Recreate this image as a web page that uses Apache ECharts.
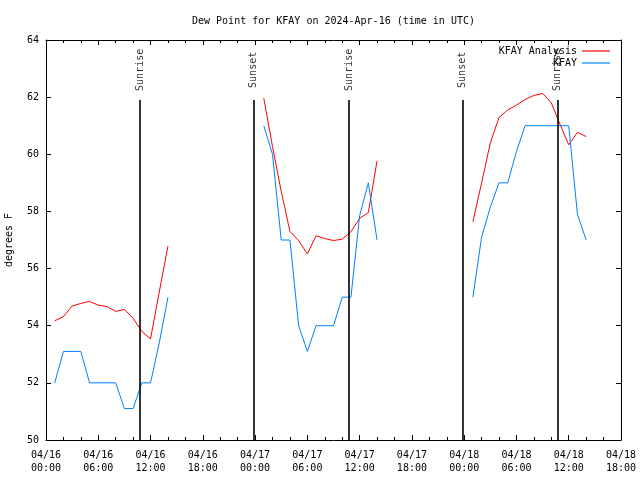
<!DOCTYPE html>
<html>
<head>
<meta charset="utf-8">
<script src="https://cdn.jsdelivr.net/npm/echarts@6/dist/echarts.min.js"></script>
<style>html,body{margin:0;padding:0;background:#fff;}#c{width:640px;height:480px;}</style>
</head>
<body>
<div id="c"></div>
<script>
// Hours since 2024-04-16 00:00 UTC
const hours1 = [1,2,3,4,5,6,7,8,9,10,11,12,13,14];
const analysis1 = [54.17,54.32,54.69,54.78,54.85,54.72,54.67,54.50,54.57,54.26,53.80,53.54,55.18,56.79];
const obs1 = [52.0,53.1,53.1,53.1,52.0,52.0,52.0,52.0,51.1,51.1,52.0,52.0,53.4,55.0];

const hours2 = [25,26,27,28,29,30,31,32,33,34,35,36,37,38];
const analysis2 = [61.96,60.27,58.70,57.30,56.98,56.51,57.15,57.05,56.98,57.03,57.29,57.76,57.96,59.77];
const obs2 = [61.0,60.0,57.0,57.0,54.0,53.1,54.0,54.0,54.0,55.0,55.0,57.85,59.0,57.0];

const hours3 = [49,50,51,52,53,54,55,56,57,58,59,60,61,62];
const analysis3 = [57.64,59.0,60.4,61.29,61.55,61.72,61.92,62.06,62.13,61.8,61.05,60.33,60.77,60.62];
const obs3 = [55.0,57.1,58.15,59.0,59.0,60.1,61.0,61.0,61.0,61.0,61.0,61.0,57.9,57.0];

const sunTimes = [10.8, 23.8, 34.78, 47.8, 58.73];
const sunLabels = ['Sunrise','Sunset','Sunrise','Sunset','Sunrise'];

const xTickLabels = ['04/16\n00:00','04/16\n06:00','04/16\n12:00','04/16\n18:00',
  '04/17\n00:00','04/17\n06:00','04/17\n12:00','04/17\n18:00',
  '04/18\n00:00','04/18\n06:00','04/18\n12:00','04/18\n18:00'];

const seriesNames = ['KFAY Analysis','KFAY'];
const titleText = 'Dew Point for KFAY on 2024-Apr-16 (time in UTC)';
const yName = 'degrees F';

function joinSegments(hs, vs) {
  const out = [];
  hs.forEach((h, k) => {
    if (k > 0) out.push([hs[k-1][hs[k-1].length-1] + 0.5, null]);
    h.forEach((t, i) => out.push([t, vs[k][i]]));
  });
  return out;
}
const redData = joinSegments([hours1,hours2,hours3],[analysis1,analysis2,analysis3]);
const blueData = joinSegments([hours1,hours2,hours3],[obs1,obs2,obs3]);

const FONT = 'DejaVu Sans Mono';
const FS = 10;

const chart = echarts.init(document.getElementById('c'), null, {renderer:'canvas'});
const axisCommon = {
  axisLine:{show:true, onZero:false, lineStyle:{color:'#000', width:1}},
  splitLine:{show:false}
};
chart.setOption({
  animation:false,
  backgroundColor:'#fff',
  title:{text:titleText, left:187, top:11, textStyle:{fontFamily:FONT, fontSize:FS, fontWeight:'normal', color:'#000'}},
  legend:{
    data:seriesNames, orient:'vertical', right:25, top:41, align:'right',
    icon:'rect', itemWidth:28, itemHeight:1.2, itemGap:2,
    textStyle:{fontFamily:FONT, fontSize:FS, color:'#000'}
  },
  grid:{left:46, right:19, top:40, bottom:40, containLabel:false, outerBoundsMode:'none'},
  xAxis:[{
    type:'value', min:0, max:66, interval:6, position:'bottom',
    ...axisCommon,
    axisTick:{show:true, inside:true, length:5, lineStyle:{color:'#000'}},
    minorTick:{show:true, splitNumber:3, length:3, lineStyle:{color:'#000'}},
    axisLabel:{fontFamily:FONT, fontSize:FS, color:'#000', margin:9, lineHeight:13,
      formatter:v => xTickLabels[Math.round(v/6)]}
  },{
    type:'value', min:0, max:66, interval:6, position:'top',
    ...axisCommon,
    axisTick:{show:true, inside:true, length:5, lineStyle:{color:'#000'}},
    minorTick:{show:true, splitNumber:3, length:3, lineStyle:{color:'#000'}},
    axisLabel:{show:false}
  }],
  yAxis:[{
    type:'value', min:50, max:64, interval:2, position:'left',
    ...axisCommon,
    axisTick:{show:true, inside:true, length:5, lineStyle:{color:'#000'}},
    axisLabel:{fontFamily:FONT, fontSize:FS, color:'#000', margin:7},
    name:yName, nameLocation:'middle', nameRotate:90, nameGap:32,
    nameTextStyle:{fontFamily:FONT, fontSize:FS, color:'#000'}
  },{
    type:'value', min:50, max:64, interval:2, position:'right',
    ...axisCommon,
    axisTick:{show:true, inside:true, length:5, lineStyle:{color:'#000'}},
    axisLabel:{show:false}
  }],
  series:[{
    name:seriesNames[0], type:'line', data:redData, symbol:'none', showSymbol:false,
    connectNulls:false, color:'#ff0000', lineStyle:{color:'#ff0000', width:1}, z:3
  },{
    name:seriesNames[1], type:'line', data:blueData, symbol:'none', showSymbol:false,
    connectNulls:false, color:'#0080ff', lineStyle:{color:'#0080ff', width:1}, z:3
  },{
    name:'sun', type:'scatter', silent:true, z:2,
    data:sunTimes.map((t,i)=>({value:[t,62.92], name:sunLabels[i]})),
    symbolSize:1, itemStyle:{color:'rgba(0,0,0,0)'},
    label:{show:true, position:'inside', rotate:90, offset:[1,0], formatter:p=>p.name,
      fontFamily:FONT, fontSize:FS, color:'#000'},
    markLine:{
      silent:true, symbol:['none','none'], label:{show:false},
      lineStyle:{color:'#000', type:'solid', width:1.6},
      data:sunTimes.map(t=>[{coord:[t,50]},{coord:[t,61.9]}])
    }
  }]
});
</script>
</body>
</html>
